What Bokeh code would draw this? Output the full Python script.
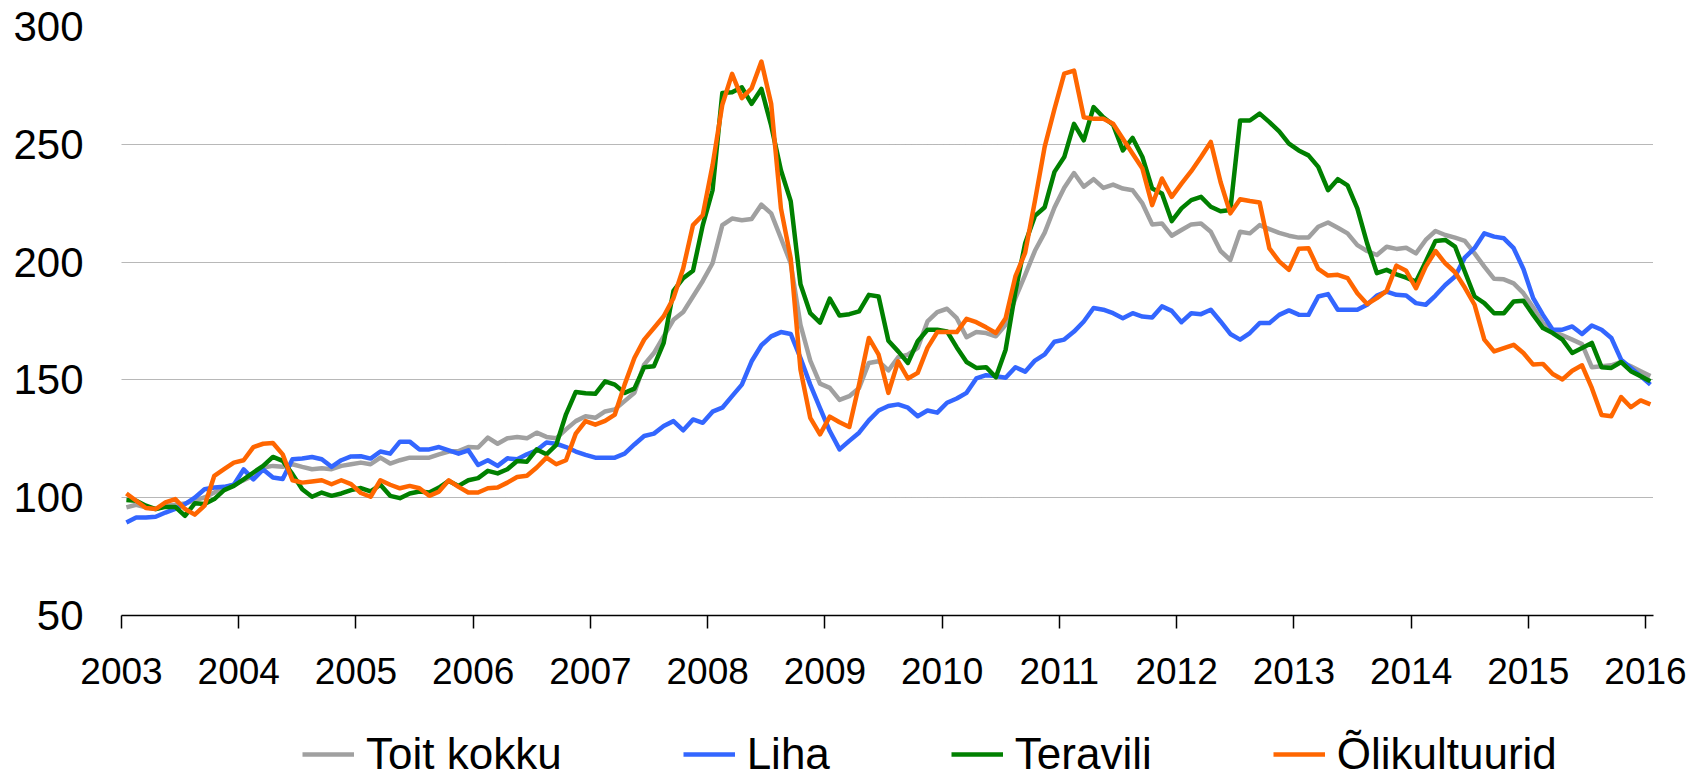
from bokeh.plotting import figure
from bokeh.models import Range1d, FixedTicker, Legend, LegendItem
from bokeh.layouts import column
from bokeh.embed import file_html
from bokeh.resources import INLINE

# Monthly indices, Jan 2003 .. Jan 2016 (one row per year)
start_year = 2003
toit_kokku = [
    95.9, 97.0, 95.9, 95.2, 96.5, 97.0, 97.5, 99.0, 100.1, 102.2, 104.3, 105.5,
    107.4, 109.3, 112.8, 113.5, 113.1, 114.2, 113.1, 112.1, 112.5, 112.1, 113.5, 114.2,
    114.9, 114.2, 117.0, 114.5, 115.9, 117.0, 117.0, 117.0, 118.4, 119.6, 119.8, 121.5,
    121.3, 125.5, 122.9, 125.2, 125.8, 125.2, 127.6, 125.8, 125.2, 129.0, 132.5, 134.6,
    133.9, 136.6, 137.5, 141.0, 144.5, 156.5, 161.4, 168.5, 175.5, 178.8, 185.4, 192.0,
    199.5, 215.7, 218.5, 217.8, 218.3, 224.4, 220.7, 210.1, 199.5, 173.4, 158.2, 148.4,
    146.6, 141.5, 143.1, 146.6, 157.2, 157.9, 154.0, 159.6, 160.7, 163.6, 174.8, 178.8,
    180.2, 176.2, 168.1, 170.3, 169.9, 168.5, 173.4, 184.7, 194.6, 204.8, 212.5, 223.2,
    231.6, 237.8, 232.0, 235.2, 231.5, 232.9, 231.2, 230.5, 224.9, 216.0, 216.4, 211.2,
    213.6, 216.0, 216.4, 212.9, 204.7, 200.9, 212.9, 212.2, 215.7, 214.0, 212.4, 211.2,
    210.4, 210.4, 215.0, 216.8, 214.6, 212.2, 207.2, 204.7, 203.0, 206.5, 205.6, 206.1,
    203.7, 209.4, 213.2, 211.5, 210.4, 209.0, 203.7, 198.1, 192.9, 192.7, 191.0, 186.8,
    180.7, 174.1, 170.6, 168.9, 167.1, 165.2, 155.4, 155.8, 156.2, 157.6, 155.8, 153.7,
    151.6,
]
liha = [
    89.5, 91.6, 91.6, 91.9, 93.7, 95.2, 97.3, 100.0, 103.6, 104.3, 104.6, 105.5,
    112.0, 107.8, 112.0, 108.6, 107.9, 116.3, 116.6, 117.3, 116.3, 113.1, 115.9, 117.5,
    117.6, 116.6, 119.6, 118.7, 123.8, 123.8, 120.5, 120.5, 121.5, 120.1, 118.7, 120.1,
    113.9, 115.9, 113.5, 116.7, 116.3, 118.4, 120.1, 123.4, 122.9, 121.5, 119.6, 118.2,
    117.0, 117.0, 117.0, 118.7, 122.6, 126.2, 127.2, 130.4, 132.5, 128.6, 133.2, 131.8,
    136.5, 138.2, 143.1, 148.0, 157.9, 164.7, 168.5, 170.3, 169.5, 159.3, 148.0, 138.0,
    128.3, 120.5, 124.1, 127.6, 132.8, 137.0, 138.9, 139.6, 138.2, 134.6, 137.0, 136.1,
    140.3, 142.1, 144.5, 150.6, 152.0, 151.6, 150.9, 155.4, 153.5, 158.2, 160.8, 166.2,
    167.1, 170.5, 174.8, 180.5, 179.8, 178.3, 176.2, 178.3, 176.9, 176.5, 181.2, 179.3,
    174.5, 178.3, 177.9, 179.8, 174.8, 169.5, 167.1, 169.9, 174.1, 174.1, 177.6, 179.5,
    177.7, 177.6, 185.4, 186.4, 179.8, 179.8, 179.8, 181.9, 185.8, 187.5, 186.1, 185.8,
    182.6, 181.9, 185.8, 190.3, 193.9, 201.9, 205.9, 212.2, 210.8, 210.1, 205.9, 197.1,
    184.7, 177.6, 171.3, 171.3, 172.7, 169.5, 173.1, 171.3, 167.8, 158.6, 155.1, 151.6,
    148.0,
]
teravili = [
    99.0, 98.7, 96.6, 95.2, 96.1, 96.1, 92.3, 97.6, 97.3, 99.4, 103.2, 105.0,
    107.8, 110.7, 113.5, 117.3, 115.6, 110.0, 103.6, 100.4, 102.2, 100.8, 101.8, 103.2,
    104.1, 102.7, 105.5, 100.8, 99.8, 101.8, 102.6, 102.2, 104.3, 107.1, 105.0, 107.4,
    108.3, 111.4, 110.3, 112.1, 115.6, 115.3, 120.5, 118.4, 122.4, 135.4, 144.9, 144.3,
    144.1, 149.4, 148.0, 144.5, 146.3, 155.4, 155.8, 165.7, 187.8, 193.2, 196.3, 215.7,
    230.5, 271.8, 272.1, 274.2, 267.2, 273.5, 258.0, 239.0, 225.9, 190.6, 178.3, 174.3,
    184.5, 177.3, 177.9, 179.1, 186.1, 185.4, 166.6, 162.1, 157.2, 166.4, 171.3, 171.3,
    170.6, 163.8, 157.6, 155.1, 155.4, 151.1, 162.8, 187.5, 208.0, 219.6, 223.3, 238.3,
    244.6, 258.7, 251.7, 265.8, 261.5, 258.3, 247.4, 252.7, 244.6, 231.2, 229.1, 217.4,
    222.8, 226.3, 227.7, 223.5, 221.6, 222.1, 260.1, 260.1, 263.0, 259.4, 255.5, 250.3,
    247.4, 245.3, 240.4, 230.5, 235.2, 232.6, 222.8, 208.0, 195.3, 196.7, 194.8, 193.4,
    191.7, 200.2, 209.0, 209.4, 206.6, 196.0, 185.4, 182.6, 178.3, 178.3, 183.3, 183.6,
    177.6, 172.0, 169.9, 167.1, 161.4, 163.5, 165.7, 155.4, 155.1, 157.6, 153.7, 151.6,
    149.4,
]
olikultuurid = [
    101.8, 98.7, 95.6, 95.2, 98.0, 99.4, 95.2, 92.8, 96.6, 109.3, 112.1, 114.9,
    115.9, 121.5, 122.9, 123.2, 118.4, 107.4, 106.4, 106.9, 107.4, 105.7, 107.4, 105.8,
    102.0, 100.4, 107.4, 105.5, 104.0, 105.0, 104.0, 100.8, 102.6, 107.4, 104.6, 102.2,
    102.2, 104.0, 104.3, 106.4, 108.8, 109.3, 112.8, 117.0, 114.2, 115.9, 127.2, 132.5,
    131.0, 132.6, 135.3, 148.0, 159.3, 167.1, 172.0, 177.0, 184.7, 197.4, 215.7, 220.0,
    241.1, 266.8, 279.9, 269.6, 273.8, 285.1, 267.2, 222.8, 201.6, 154.4, 133.9, 126.9,
    134.4, 132.0, 130.0, 148.0, 167.8, 160.7, 144.5, 157.9, 150.6, 153.0, 163.6, 170.3,
    170.3, 170.3, 175.9, 174.5, 172.3, 169.9, 176.2, 193.9, 204.0, 226.0, 249.0, 265.0,
    280.0, 281.3, 261.5, 260.8, 260.8, 258.7, 252.4, 246.0, 239.7, 224.2, 235.5, 227.7,
    233.3, 238.6, 244.6, 251.0, 234.0, 220.7, 226.7, 225.9, 225.3, 205.8, 200.3, 196.7,
    205.7, 205.9, 197.1, 194.3, 194.6, 193.2, 186.8, 182.2, 184.7, 187.8, 198.5, 196.3,
    188.9, 198.1, 204.7, 199.5, 195.7, 189.2, 181.9, 167.1, 162.1, 163.5, 164.9, 161.4,
    156.5, 156.8, 152.5, 150.2, 153.9, 156.2, 146.6, 135.1, 134.6, 142.7, 138.4, 141.3,
    139.6,
]

series_names = ["Toit kokku", "Liha", "Teravili", "Õlikultuurid"]
series_values = [toit_kokku, liha, teravili, olikultuurid]
series_colors = ["#A0A0A0", "#3366FF", "#008000", "#FF6600"]
year_ticks = list(range(2003, 2017))
y_ticks = [50, 100, 150, 200, 250, 300]
grid_ticks = [100, 150, 200, 250, 300]

FONT = "Liberation Sans"
LINE_W = 4.5

p = figure(
    frame_width=1532, frame_height=589,
    min_border_left=121, min_border_right=47,
    min_border_top=26, min_border_bottom=95,
    x_range=Range1d(2003, 2016.068), y_range=Range1d(50, 300),
    output_backend="svg", toolbar_location=None,
)
p.outline_line_color = None
p.background_fill_color = "white"
p.border_fill_color = "white"

# y axis
p.yaxis.ticker = FixedTicker(ticks=y_ticks)
p.yaxis.axis_line_color = None
p.yaxis.major_tick_line_color = None
p.yaxis.minor_tick_line_color = None
p.yaxis.major_tick_out = 0
p.yaxis.major_tick_in = 0
p.yaxis.major_label_standoff = 38
p.yaxis.major_label_text_font_size = "42px"
p.yaxis.major_label_text_font = FONT
p.yaxis.major_label_text_color = "black"

# x axis
p.xaxis.ticker = FixedTicker(ticks=year_ticks)
p.xaxis.axis_line_color = "black"
p.xaxis.axis_line_width = 1.5
p.xaxis.major_tick_line_color = "black"
p.xaxis.major_tick_line_width = 1.5
p.xaxis.major_tick_out = 13
p.xaxis.major_tick_in = 0
p.xaxis.minor_tick_line_color = None
p.xaxis.major_label_standoff = 29
p.xaxis.major_label_text_font_size = "37px"
p.xaxis.major_label_text_font = FONT
p.xaxis.major_label_text_color = "black"

# grid
p.xgrid.visible = False
p.ygrid.ticker = FixedTicker(ticks=grid_ticks)
p.ygrid.grid_line_color = "#707070"
p.ygrid.grid_line_dash = "1 1"
p.ygrid.grid_line_width = 1

for vals, col in zip(series_values, series_colors):
    xs = [start_year + (i + 0.5) / 12.0 for i in range(len(vals))]
    p.line(xs, vals, line_width=LINE_W, line_color=col, line_join="round")

# legend strip below the chart (its own small figure; its lines hold no visible data)
leg = figure(
    width=1700, height=69,
    min_border_left=0, min_border_right=0, min_border_top=0, min_border_bottom=0,
    x_range=Range1d(0, 1), y_range=Range1d(0, 1),
    x_axis_location=None, y_axis_location=None,
    output_backend="svg", toolbar_location=None,
)
leg.outline_line_color = None
leg.grid.visible = False
leg.background_fill_color = "white"
leg.border_fill_color = "white"

nan = float("nan")
items = []
for name, col in zip(series_names, series_colors):
    r = leg.line([nan], [nan], line_width=LINE_W, line_color=col)
    items.append(LegendItem(label=name, renderers=[r]))

legend = Legend(
    items=items, orientation="horizontal", location=(181, 0),
    glyph_width=52, glyph_height=30, label_standoff=12, spacing=121,
    label_text_font_size="44px", label_text_font=FONT, label_text_color="black",
    padding=0, margin=0, border_line_color=None, background_fill_alpha=0,
)
leg.add_layout(legend, "center")

layout = column(p, leg, spacing=0)
open("out.html", "w").write(file_html(layout, INLINE))
